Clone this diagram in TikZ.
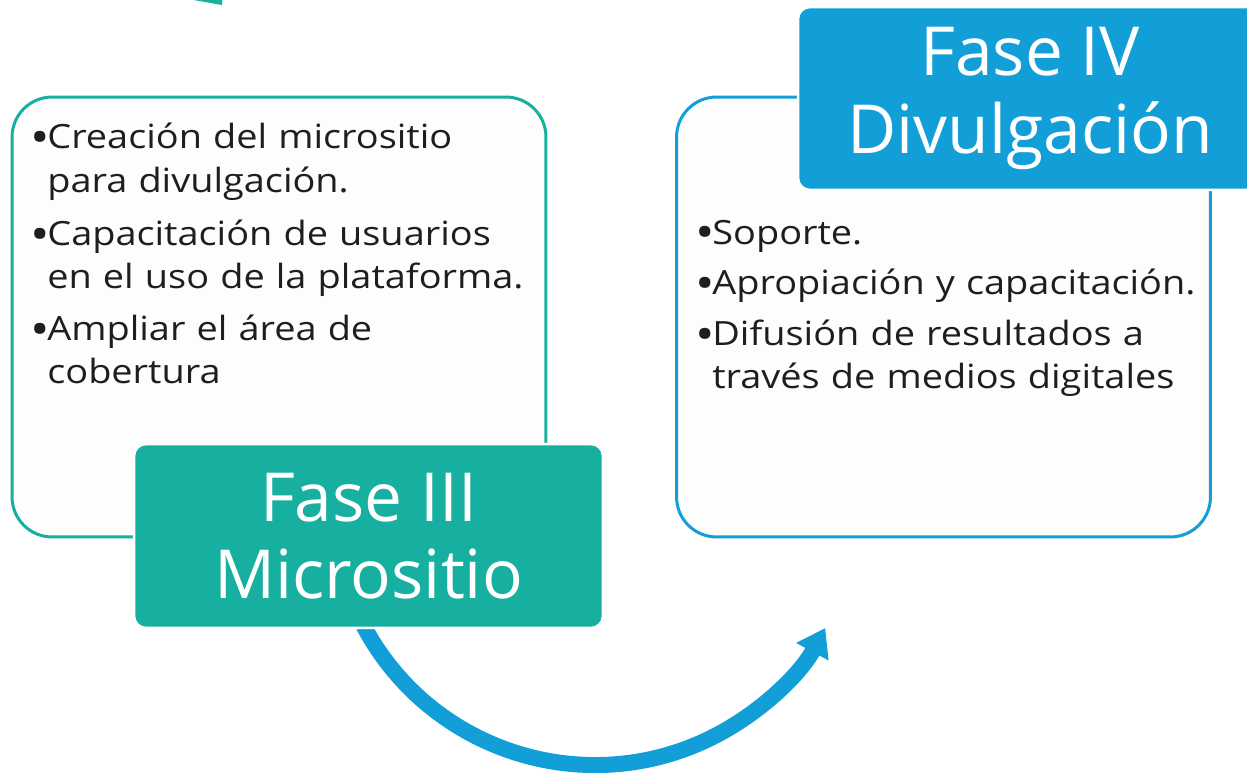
\documentclass[tikz,border=0pt]{standalone}
\usepackage{fontspec}
\setmainfont{Open Sans}
\newfontfamily\listafont{Open Sans}[FakeStretch=1.135]
\usetikzlibrary{arrows.meta}
\definecolor{faseverde}{HTML}{17AF9F}
\definecolor{faseazul}{HTML}{129FD7}
\definecolor{textogris}{HTML}{1E1E1E}
\definecolor{fondocaja}{HTML}{FDFDFD}
\pgfdeclarelayer{background}
\pgfdeclarelayer{foreground}
\pgfsetlayers{background,main,foreground}
\newcommand{\punto}{\makebox[0.34cm][l]{\raisebox{-2.6pt}{\fontsize{26}{24}\selectfont•}}}
\newcommand{\sangria}{\hspace*{0.34cm}}

\begin{document}
\begin{tikzpicture}[x=0.02cm,y=0.02cm,
  caja/.style={draw=#1,line width=0.06cm,fill=fondocaja,rounded corners=0.8cm,
    minimum width=10.68cm,minimum height=8.8cm,inner sep=0pt},
  titulo/.style={fill=#1,draw=white,line width=0.05cm,rounded corners=0.24cm,
    text=white,align=center,inner sep=0pt,
    font=\fontsize{38.5}{44}\selectfont},
  lista/.style={anchor=base west,inner sep=0pt,text width=12cm,align=left,
    text=textogris,font=\listafont\fontsize{19}{24.5}\selectfont},
  flecha/.style={draw=faseazul,line width=0.32cm,
    -{Triangle[length=0.54cm,width=0.7cm]}}]
\useasboundingbox (0,0) rectangle (1247,772);
\clip (0,0) rectangle (1247,772);
% punta de la fase anterior
\fill[faseverde] (120,785) -- (223,785) -- (222,767) -- cycle;
% cajas de actividades
\node[caja=faseverde] (caja3) at (279,455) {};
\node[caja=faseazul] (caja4) at (943.5,455) {};
\node[lista] (lista3) at (30,623) {\punto Creación del micrositio\\\sangria para divulgación.\\[6pt]
  \punto Capacitación de usuarios\\\sangria en el uso de la plataforma.\\[5pt]
  \punto Ampliar el área de\\\sangria cobertura};
\node[lista] (lista4) at (695,528) {\punto Soporte.\\[4.5pt]
  \punto Apropiación y capacitación.\\[4.5pt]
  \punto Difusión de resultados a\\\sangria través de medios digitales};
% flecha entre fases
\coordinate (centro) at (595,269);
\draw[flecha] (centro) ++(208:262) arc[start angle=208,end angle=331.5,radius=262];
\begin{pgfonlayer}{foreground}
\node[titulo=faseverde,minimum width=9.38cm,minimum height=3.68cm] (fase3) at (368.5,236) {Fase III\\Micrositio};
\node[titulo=faseazul,minimum width=9.28cm,minimum height=3.66cm] (fase4) at (1030,673.5) {Fase IV\\Divulgación};
\end{pgfonlayer}
\end{tikzpicture}
\end{document}
